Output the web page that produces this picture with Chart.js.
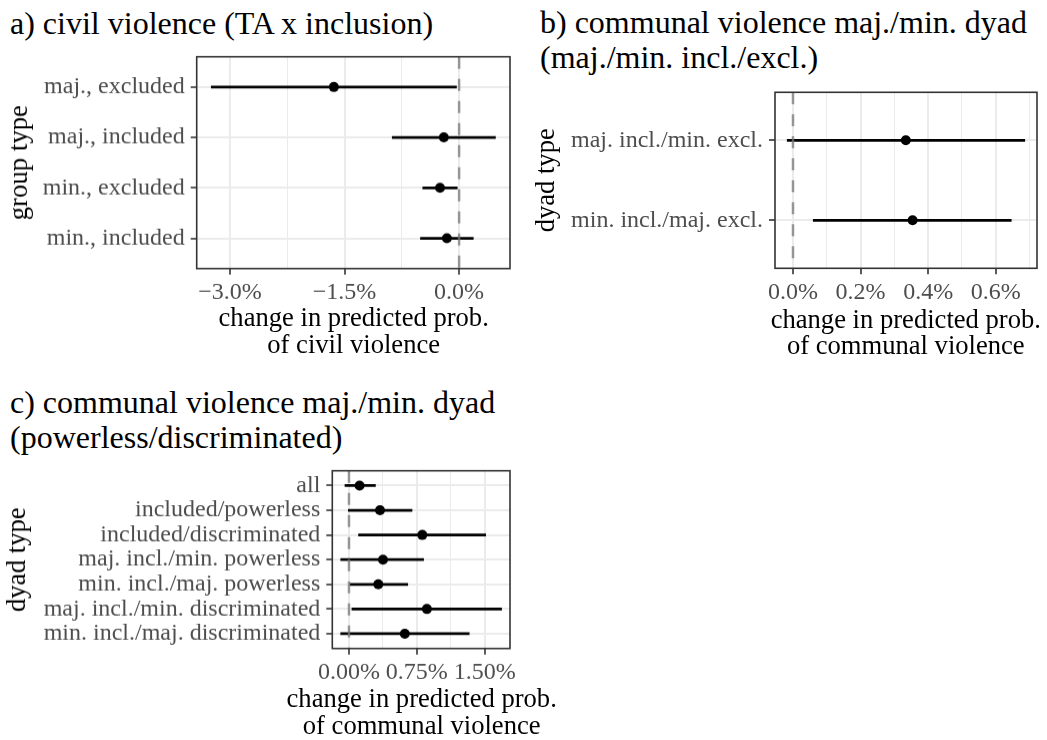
<!DOCTYPE html>
<html>
<head>
<meta charset="utf-8">
<script src="https://cdn.jsdelivr.net/npm/chart.js@4/dist/chart.umd.min.js"></script>
<style>
  body { margin: 0; background: #fff; width: 1047px; height: 740px; position: relative; overflow: hidden;
         font-family: "Liberation Serif", "Times New Roman", "DejaVu Serif", serif; }
  .ttl { position: absolute; font-size: 32px; line-height: 35px; color: #000; white-space: nowrap; }
  .xt { position: absolute; font-size: 26.6px; line-height: 26.6px; color: #000; white-space: nowrap; text-align: center; width: 400px; }
  .box { position: absolute; }
</style>
</head>
<body>
<div class="ttl" style="left:10px; top:6px;">a) civil violence (TA x inclusion)</div>
<div class="ttl" style="left:540px; top:5px;">b) communal violence maj./min. dyad<br>(maj./min. incl./excl.)</div>
<div class="ttl" style="left:10px; top:385px;">c) communal violence maj./min. dyad<br>(powerless/discriminated)</div>

<div class="box" style="left:0px; top:50px; width:520px; height:265.7px;"><canvas id="chartA"></canvas></div>
<div class="box" style="left:530px; top:86px; width:517px; height:230.3px;"><canvas id="chartB"></canvas></div>
<div class="box" style="left:0px; top:464px; width:520px; height:231.7px;"><canvas id="chartC"></canvas></div>

<div class="xt" style="left:153.7px; top:304.4px;">change in predicted prob.<br>of civil violence</div>
<div class="xt" style="left:705.8px; top:305.5px;">change in predicted prob.<br>of communal violence</div>
<div class="xt" style="left:221.7px; top:685px;">change in predicted prob.<br>of communal violence</div>

<script>
// panel a) civil violence
const catsA = ['maj., excluded', 'maj., included', 'min., excluded', 'min., included'];
const estA = [-1.64, -0.20, -0.25, -0.16];
const lowA = [-3.25, -0.88, -0.48, -0.51];
const highA = [-0.03, 0.48, -0.02, 0.19];
const ticksA = [-3.0, -1.5, 0.0];
const tickLabelsA = ['\u22123.0%', '\u22121.5%', '0.0%'];
const minorA = [-2.25, -0.75];

// panel b) communal violence incl./excl.
const catsB = ['maj. incl./min. excl.', 'min. incl./maj. excl.'];
const estB = [0.334, 0.354];
const lowB = [-0.018, 0.059];
const highB = [0.687, 0.647];
const ticksB = [0.0, 0.2, 0.4, 0.6];
const tickLabelsB = ['0.0%', '0.2%', '0.4%', '0.6%'];
const minorB = [0.1, 0.3, 0.5, 0.7];

// panel c) communal violence powerless/discriminated
const catsC = ['all', 'included/powerless', 'included/discriminated', 'maj. incl./min. powerless',
    'min. incl./maj. powerless', 'maj. incl./min. discriminated', 'min. incl./maj. discriminated'];
const estC = [0.117, 0.343, 0.81, 0.376, 0.324, 0.861, 0.617];
const lowC = [-0.048, -0.011, 0.102, -0.095, 0.007, 0.029, -0.095];
const highC = [0.296, 0.70, 1.514, 0.828, 0.653, 1.69, 1.332];
const ticksC = [0.0, 0.75, 1.5];
const tickLabelsC = ['0.00%', '0.75%', '1.50%'];
const minorC = [0.375, 1.125];

const FAMILY = "'Liberation Serif', 'Times New Roman', 'DejaVu Serif', serif";
const TICK_COLOR = '#4d4d4d';
const GRID = '#ebebeb';

// ggplot-like frame + dashed zero line
const framePlugin = {
    id: 'frame',
    afterDatasetsDraw(chart) {
        const {ctx, chartArea: a, scales} = chart;
        const x0 = scales.x.getPixelForValue(0);
        ctx.save();
        ctx.strokeStyle = 'rgba(120,120,120,0.75)';
        ctx.lineWidth = 2.5;
        ctx.setLineDash([12, 10]);
        ctx.beginPath();
        ctx.moveTo(x0, a.top);
        ctx.lineTo(x0, a.bottom);
        ctx.stroke();
        ctx.setLineDash([]);
        ctx.strokeStyle = '#333333';
        ctx.lineWidth = 1.6;
        ctx.strokeRect(a.left, a.top, a.right - a.left, a.bottom - a.top);
        ctx.restore();
    }
};

function makePanel(id, cats, est, low, high, ticks, tickLabels, minor, yTitle, yWidth, xHeight, padTop, yTitlePad) {
    const lo = Math.min(0, ...low), hi = Math.max(0, ...high);
    const span = hi - lo;
    const allTicks = ticks.concat(minor).sort((p, q) => p - q);

    const datasets = [{
        label: 'estimate',
        data: est.map((v, i) => ({x: v, y: i})),
        pointRadius: 5,
        pointBackgroundColor: '#000',
        pointBorderWidth: 0,
        showLine: false,
        order: 0
    }];
    cats.forEach((c, i) => {
        datasets.push({
            label: c,
            data: [{x: low[i], y: i}, {x: high[i], y: i}],
            showLine: true,
            borderColor: '#000',
            borderWidth: 2.7,
            pointRadius: 0,
            order: 1
        });
    });

    new Chart(document.getElementById(id), {
        type: 'scatter',
        data: {datasets},
        options: {
            responsive: true,
            maintainAspectRatio: false,
            animation: false,
            events: [],
            layout: {padding: {top: padTop, right: 10, left: 0, bottom: 0}},
            plugins: {legend: {display: false}, tooltip: {enabled: false}},
            scales: {
                x: {
                    type: 'linear',
                    min: lo - 0.05 * span,
                    max: hi + 0.05 * span,
                    afterBuildTicks: s => { s.ticks = allTicks.map(v => ({value: v})); },
                    afterFit: s => {
                        s.height = xHeight;
                        s.paddingLeft = 0;
                        s.paddingRight = 0;
                    },
                    border: {display: false},
                    grid: {
                        color: GRID,
                        lineWidth: c => ticks.includes(c.tick.value) ? 2 : 1,
                        tickColor: c => ticks.includes(c.tick.value) ? '#333333' : 'rgba(0,0,0,0)',
                        tickLength: 6,
                        tickWidth: 1.6
                    },
                    ticks: {
                        autoSkip: false,
                        maxRotation: 0,
                        padding: 4,
                        color: TICK_COLOR,
                        font: {family: FAMILY, size: 24},
                        callback: v => {
                            const k = ticks.indexOf(v);
                            return k >= 0 ? tickLabels[k] : '';
                        }
                    }
                },
                y: {
                    type: 'linear',
                    reverse: true,
                    min: -0.6,
                    max: cats.length - 1 + 0.6,
                    afterBuildTicks: s => { s.ticks = cats.map((c, i) => ({value: i})); },
                    afterFit: s => {
                        s.width = yWidth;
                        s.paddingTop = 0;
                        s.paddingBottom = 0;
                    },
                    border: {display: false},
                    grid: {
                        color: GRID,
                        lineWidth: 2,
                        tickColor: '#333333',
                        tickLength: 6,
                        tickWidth: 1.6
                    },
                    ticks: {
                        autoSkip: false,
                        padding: 6,
                        color: TICK_COLOR,
                        font: {family: FAMILY, size: 24},
                        callback: v => cats[v]
                    },
                    title: {
                        display: true,
                        text: yTitle,
                        color: '#000',
                        padding: {top: yTitlePad, bottom: 0},
                        font: {family: FAMILY, size: 26.6, lineHeight: 1.0}
                    }
                }
            }
        },
        plugins: [framePlugin]
    });
}

makePanel('chartA', catsA, estA, lowA, highA, ticksA, tickLabelsA, minorA, 'group type', 196.7, 48, 6.7, 7);
makePanel('chartB', catsB, estB, lowB, highB, ticksB, tickLabelsB, minorB, 'dyad type', 245, 48, 6.3, 3.4);
makePanel('chartC', catsC, estC, lowC, highC, ticksC, tickLabelsC, minorC, 'dyad type', 332.3, 48, 6.7, 4.7);
</script>
</body>
</html>
